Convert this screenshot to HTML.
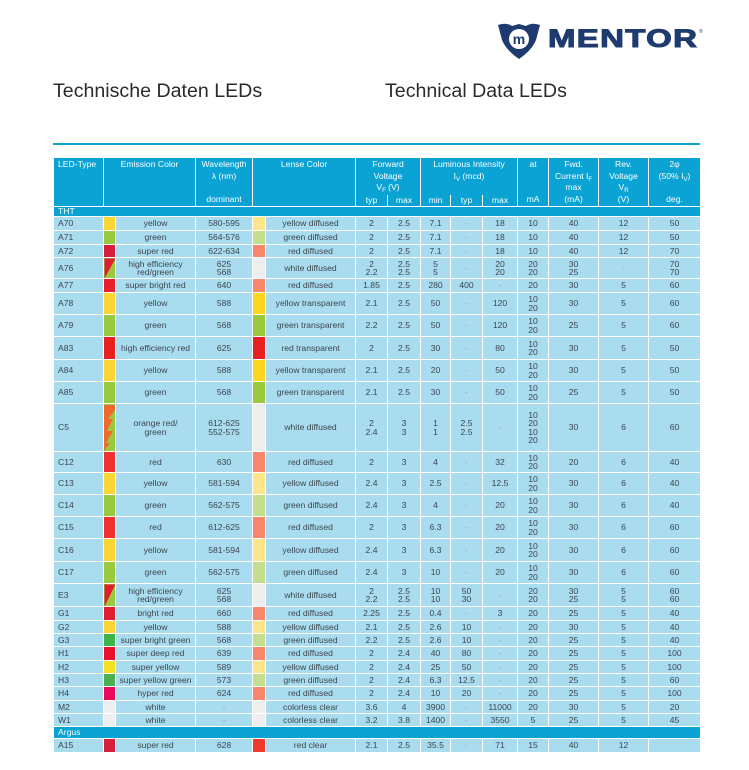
<!DOCTYPE html>
<html><head><meta charset="utf-8">
<style>
body{margin:0;width:749px;height:770px;background:#fff;position:relative;font-family:"Liberation Sans",sans-serif;overflow:hidden}
.t{position:absolute;top:80px;font-size:19.6px;color:#2a2a2a}
table{position:absolute;left:53px;top:157px;border-collapse:collapse;table-layout:fixed;width:647px;font-size:8.6px;color:#3c4650}
td{border:1px solid #fff;background:#a9dcee;text-align:center;vertical-align:middle;padding:0;line-height:8.4px;overflow:hidden;white-space:nowrap}
td.l{text-align:left;padding-left:4px}
tr.h td{background:#0aa3d4;color:#fff;vertical-align:top;line-height:11.5px;padding-top:1px}
tr.g td{background:#0aa3d4;color:#fff;text-align:left;padding-left:4px;line-height:9px}
sub{font-size:6px;line-height:0;vertical-align:-2px}
.d{color:#9aa}
</style></head><body>
<svg style="position:absolute;left:496px;top:22px" width="46" height="38" viewBox="0 0 46 38">
<path d="M2 3 Q10 0 16 4 L23 2 L30 4 Q36 0 44 3 L40 18 Q36 28 23 37 Q10 28 6 18 Z" fill="#1e3a6e"/>
<circle cx="23" cy="17" r="10" fill="#fff"/>
<text x="23" y="22" font-family="Liberation Sans" font-weight="bold" font-size="14" fill="#1e3a6e" text-anchor="middle">m</text>
</svg>
<div style="position:absolute;left:548px;top:25px;font-size:25px;font-weight:bold;color:#1e3a6e;letter-spacing:1px;transform:scaleX(1.32);transform-origin:left;-webkit-text-stroke:1px #1e3a6e">MENTOR</div>
<div style="position:absolute;left:699px;top:29px;font-size:5px;color:#1e3a6e">®</div>
<div class="t" style="left:53px">Technische Daten LEDs</div>
<div class="t" style="left:385px">Technical Data LEDs</div>
<div style="position:absolute;left:53px;top:143px;width:647px;height:2px;background:#12a3cf"></div>
<table>
<colgroup><col style="width:50px"><col style="width:12px"><col style="width:80px"><col style="width:57px"><col style="width:13px"><col style="width:90px"><col style="width:32px"><col style="width:33px"><col style="width:30px"><col style="width:32px"><col style="width:35px"><col style="width:31px"><col style="width:50px"><col style="width:50px"><col style="width:52px"></colgroup>
<tr class="h" style="height:37px"><td class="l" rowspan="2">LED-Type</td><td colspan="2" rowspan="2">Emission Color</td><td rowspan="2">Wavelength<br>λ (nm)<br><br>dominant</td><td colspan="2" rowspan="2">Lense Color</td><td colspan="2" style="border-bottom:0">Forward<br>Voltage<br>V<sub>F</sub> (V)</td><td colspan="3" style="border-bottom:0">Luminous Intensity<br>I<sub>V</sub> (mcd)</td><td rowspan="2">at<br><br><br>mA</td><td rowspan="2">Fwd.<br>Current I<sub>F</sub><br>max<br>(mA)</td><td rowspan="2">Rev.<br>Voltage<br>V<sub>R</sub><br>(V)</td><td rowspan="2">2φ<br>(50% I<sub>V</sub>)<br><br>deg.</td></tr>
<tr class="h" style="height:12px"><td style="border-top:0;padding-top:0">typ</td><td style="border-top:0;padding-top:0">max</td><td style="border-top:0;padding-top:0">min</td><td style="border-top:0;padding-top:0">typ</td><td style="border-top:0;padding-top:0">max</td></tr>
<tr class="g" style="height:10px"><td colspan="15">THT</td></tr>
<tr style="height:14px"><td class="l">A70</td><td style="background:#fcd535"></td><td>yellow</td><td>580-595</td><td style="background:#fde58a"></td><td>yellow diffused</td><td>2</td><td>2.5</td><td>7.1</td><td class="d">-</td><td>18</td><td>10</td><td>40</td><td>12</td><td>50</td></tr>
<tr style="height:14px"><td class="l">A71</td><td style="background:#9bc83c"></td><td>green</td><td>564-576</td><td style="background:#c4de8e"></td><td>green diffused</td><td>2</td><td>2.5</td><td>7.1</td><td class="d">-</td><td>18</td><td>10</td><td>40</td><td>12</td><td>50</td></tr>
<tr style="height:13px"><td class="l">A72</td><td style="background:#d4203a"></td><td>super red</td><td>622-634</td><td style="background:#f6876a"></td><td>red diffused</td><td>2</td><td>2.5</td><td>7.1</td><td class="d">-</td><td>18</td><td>10</td><td>40</td><td>12</td><td>70</td></tr>
<tr style="height:21px"><td class="l">A76</td><td style="background:linear-gradient(to bottom right,#e02030 50%,#9bc83c 50%)"></td><td>high efficiency<br>red/green</td><td>625<br>568</td><td style="background:#eeeeee"></td><td>white diffused</td><td>2<br>2.2</td><td>2.5<br>2.5</td><td>5<br>5</td><td class="d">-</td><td>20<br>20</td><td>20<br>20</td><td>30<br>25</td><td class="d">-</td><td>70<br>70</td></tr>
<tr style="height:14px"><td class="l">A77</td><td style="background:#e8202e"></td><td>super bright red</td><td>640</td><td style="background:#f6876a"></td><td>red diffused</td><td>1.85</td><td>2.5</td><td>280</td><td>400</td><td class="d">-</td><td>20</td><td>30</td><td>5</td><td>60</td></tr>
<tr style="height:22px"><td class="l">A78</td><td style="background:#fcd535"></td><td>yellow</td><td>588</td><td style="background:#fcd520"></td><td>yellow transparent</td><td>2.1</td><td>2.5</td><td>50</td><td class="d">-</td><td>120</td><td>10<br>20</td><td>30</td><td>5</td><td>60</td></tr>
<tr style="height:22px"><td class="l">A79</td><td style="background:#9bc83c"></td><td>green</td><td>568</td><td style="background:#9bc83c"></td><td>green transparent</td><td>2.2</td><td>2.5</td><td>50</td><td class="d">-</td><td>120</td><td>10<br>20</td><td>25</td><td>5</td><td>60</td></tr>
<tr style="height:23px"><td class="l">A83</td><td style="background:#e82020"></td><td>high efficiency red</td><td>625</td><td style="background:#e82020"></td><td>red transparent</td><td>2</td><td>2.5</td><td>30</td><td class="d">-</td><td>80</td><td>10<br>20</td><td>30</td><td>5</td><td>50</td></tr>
<tr style="height:22px"><td class="l">A84</td><td style="background:#fcd535"></td><td>yellow</td><td>588</td><td style="background:#fcd520"></td><td>yellow transparent</td><td>2.1</td><td>2.5</td><td>20</td><td class="d">-</td><td>50</td><td>10<br>20</td><td>30</td><td>5</td><td>50</td></tr>
<tr style="height:22px"><td class="l">A85</td><td style="background:#9bc83c"></td><td>green</td><td>568</td><td style="background:#9bc83c"></td><td>green transparent</td><td>2.1</td><td>2.5</td><td>30</td><td class="d">-</td><td>50</td><td>10<br>20</td><td>25</td><td>5</td><td>50</td></tr>
<tr style="height:48px"><td class="l">C5</td><td style="background:#9bc83c"><svg width="12" height="46" style="display:block"><path d="M0 0 H12 V4 L4 14 H9 L3 26 H9 L2 38 H6 L0 46 Z" fill="#f06a30"/></svg></td><td>orange red/<br>green</td><td>612-625<br>552-575</td><td style="background:#eeeeee"></td><td>white diffused</td><td>2<br>2.4</td><td>3<br>3</td><td>1<br>1</td><td>2.5<br>2.5</td><td class="d">-</td><td>10<br>20<br>10<br>20</td><td>30</td><td>6</td><td>60</td></tr>
<tr style="height:21px"><td class="l">C12</td><td style="background:#ee3030"></td><td>red</td><td>630</td><td style="background:#f6876a"></td><td>red diffused</td><td>2</td><td>3</td><td>4</td><td class="d">-</td><td>32</td><td>10<br>20</td><td>20</td><td>6</td><td>40</td></tr>
<tr style="height:22px"><td class="l">C13</td><td style="background:#fcd535"></td><td>yellow</td><td>581-594</td><td style="background:#fde58a"></td><td>yellow diffused</td><td>2.4</td><td>3</td><td>2.5</td><td class="d">-</td><td>12.5</td><td>10<br>20</td><td>30</td><td>6</td><td>40</td></tr>
<tr style="height:22px"><td class="l">C14</td><td style="background:#9bc83c"></td><td>green</td><td>562-575</td><td style="background:#c4de8e"></td><td>green diffused</td><td>2.4</td><td>3</td><td>4</td><td class="d">-</td><td>20</td><td>10<br>20</td><td>30</td><td>6</td><td>40</td></tr>
<tr style="height:22px"><td class="l">C15</td><td style="background:#ee3030"></td><td>red</td><td>612-625</td><td style="background:#f6876a"></td><td>red diffused</td><td>2</td><td>3</td><td>6.3</td><td class="d">-</td><td>20</td><td>10<br>20</td><td>30</td><td>6</td><td>60</td></tr>
<tr style="height:23px"><td class="l">C16</td><td style="background:#fcd535"></td><td>yellow</td><td>581-594</td><td style="background:#fde58a"></td><td>yellow diffused</td><td>2.4</td><td>3</td><td>6.3</td><td class="d">-</td><td>20</td><td>10<br>20</td><td>30</td><td>6</td><td>60</td></tr>
<tr style="height:22px"><td class="l">C17</td><td style="background:#9bc83c"></td><td>green</td><td>562-575</td><td style="background:#c4de8e"></td><td>green diffused</td><td>2.4</td><td>3</td><td>10</td><td class="d">-</td><td>20</td><td>10<br>20</td><td>30</td><td>6</td><td>60</td></tr>
<tr style="height:23px"><td class="l">E3</td><td style="background:linear-gradient(to bottom right,#e02030 50%,#9bc83c 50%)"></td><td>high efficiency<br>red/green</td><td>625<br>568</td><td style="background:#eeeeee"></td><td>white diffused</td><td>2<br>2.2</td><td>2.5<br>2.5</td><td>10<br>10</td><td>50<br>30</td><td class="d">-</td><td>20<br>20</td><td>30<br>25</td><td>5<br>5</td><td>60<br>60</td></tr>
<tr style="height:14px"><td class="l">G1</td><td style="background:#dc2030"></td><td>bright red</td><td>660</td><td style="background:#f6876a"></td><td>red diffused</td><td>2.25</td><td>2.5</td><td>0.4</td><td class="d">-</td><td>3</td><td>20</td><td>25</td><td>5</td><td>40</td></tr>
<tr style="height:13px"><td class="l">G2</td><td style="background:#fcd535"></td><td>yellow</td><td>588</td><td style="background:#fde58a"></td><td>yellow diffused</td><td>2.1</td><td>2.5</td><td>2.6</td><td>10</td><td class="d">-</td><td>20</td><td>30</td><td>5</td><td>40</td></tr>
<tr style="height:13px"><td class="l">G3</td><td style="background:#3cb44a"></td><td>super bright green</td><td>568</td><td style="background:#c4de8e"></td><td>green diffused</td><td>2.2</td><td>2.5</td><td>2.6</td><td>10</td><td class="d">-</td><td>20</td><td>25</td><td>5</td><td>40</td></tr>
<tr style="height:14px"><td class="l">H1</td><td style="background:#e8102a"></td><td>super deep red</td><td>639</td><td style="background:#f6876a"></td><td>red diffused</td><td>2</td><td>2.4</td><td>40</td><td>80</td><td class="d">-</td><td>20</td><td>25</td><td>5</td><td>100</td></tr>
<tr style="height:13px"><td class="l">H2</td><td style="background:#f4e020"></td><td>super yellow</td><td>589</td><td style="background:#fde58a"></td><td>yellow diffused</td><td>2</td><td>2.4</td><td>25</td><td>50</td><td class="d">-</td><td>20</td><td>25</td><td>5</td><td>100</td></tr>
<tr style="height:13px"><td class="l">H3</td><td style="background:#4cb050"></td><td>super yellow green</td><td>573</td><td style="background:#c4de8e"></td><td>green diffused</td><td>2</td><td>2.4</td><td>6.3</td><td>12.5</td><td class="d">-</td><td>20</td><td>25</td><td>5</td><td>60</td></tr>
<tr style="height:14px"><td class="l">H4</td><td style="background:#ea0a5a"></td><td>hyper red</td><td>624</td><td style="background:#f6876a"></td><td>red diffused</td><td>2</td><td>2.4</td><td>10</td><td>20</td><td class="d">-</td><td>20</td><td>25</td><td>5</td><td>100</td></tr>
<tr style="height:13px"><td class="l">M2</td><td style="background:#eeeeee"></td><td>white</td><td class="d">-</td><td style="background:#eeeeee"></td><td>colorless clear</td><td>3.6</td><td>4</td><td>3900</td><td class="d">-</td><td>11000</td><td>20</td><td>30</td><td>5</td><td>20</td></tr>
<tr style="height:13px"><td class="l">W1</td><td style="background:#eeeeee"></td><td>white</td><td class="d">-</td><td style="background:#eeeeee"></td><td>colorless clear</td><td>3.2</td><td>3.8</td><td>1400</td><td class="d">-</td><td>3550</td><td>5</td><td>25</td><td>5</td><td>45</td></tr>
<tr class="g" style="height:12px"><td colspan="15">Argus</td></tr>
<tr style="height:14px"><td class="l">A15</td><td style="background:#d4203a"></td><td>super red</td><td>628</td><td style="background:#f03a2a"></td><td>red clear</td><td>2.1</td><td>2.5</td><td>35.5</td><td class="d">-</td><td>71</td><td>15</td><td>40</td><td>12</td><td></td></tr>
</table>
</body></html>
